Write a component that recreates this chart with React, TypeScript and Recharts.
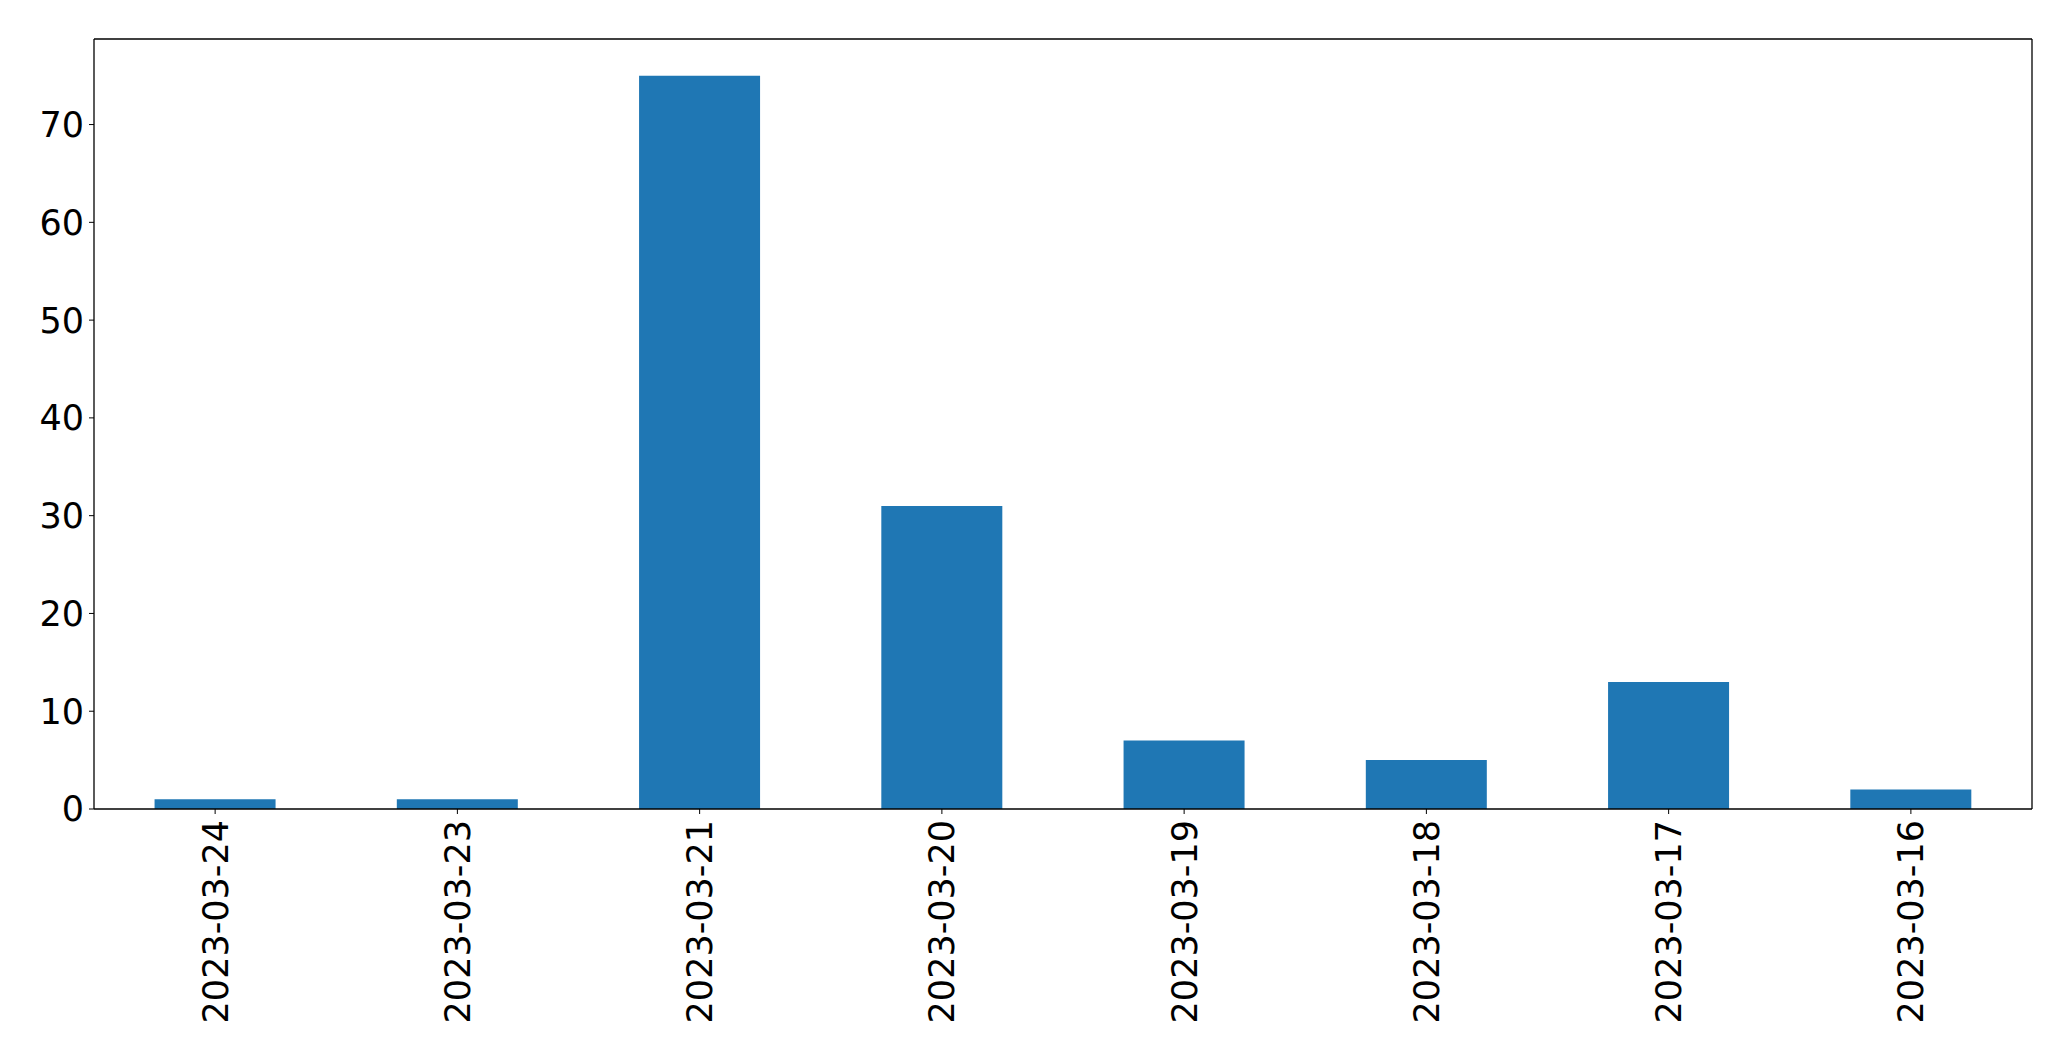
import { BarChart, Bar, XAxis, YAxis, CartesianGrid } from "recharts"

// Daily counts, in the order shown on the x axis
const dates = [
  "2023-03-24",
  "2023-03-23",
  "2023-03-21",
  "2023-03-20",
  "2023-03-19",
  "2023-03-18",
  "2023-03-17",
  "2023-03-16",
]
const counts = [1, 1, 75, 31, 7, 5, 13, 2]
const yTicks = [0, 10, 20, 30, 40, 50, 60, 70]

const FONT = "DejaVu Sans, sans-serif"
const frame = { stroke: "#000", strokeWidth: 1.3 }

const DateTick = (props: any) => {
  const { x, y, payload } = props
  return (
    <g transform={`translate(${x},${y + 6}) rotate(-90)`}>
      <text x={0} y={0} dy="0.36em" textAnchor="end" fill="#000" fontSize={35} fontFamily={FONT}>
        {payload.value}
      </text>
    </g>
  )
}

export default function App() {
  const data = dates.map((date, i) => ({ date, count: counts[i] }))

  return (
    <div style={{ position: "absolute", left: 0, top: 0, background: "#fff" }}>
      <BarChart
        width={2071}
        height={1061}
        data={data}
        margin={{ top: 39, right: 39, left: 0, bottom: 0 }}
        barCategoryGap="25%"
      >
        {/* top and right spines drawn as single grid lines on the plot edge */}
        <CartesianGrid
          stroke="#000"
          strokeWidth={1.3}
          horizontalCoordinatesGenerator={({ offset }: any) => [offset.top]}
          verticalCoordinatesGenerator={({ offset }: any) => [offset.left + offset.width]}
        />
        <XAxis
          dataKey="date"
          height={252}
          tick={<DateTick />}
          tickSize={5}
          tickMargin={0}
          stroke="#000"
          axisLine={frame}
          tickLine={{ stroke: "#000" }}
          interval={0}
        />
        <YAxis
          width={94}
          domain={[0, 78.75]}
          ticks={yTicks}
          tickSize={5}
          tickMargin={5}
          stroke="#000"
          axisLine={frame}
          tick={{ fill: "#000", fontSize: 35, fontFamily: FONT }}
          allowDataOverflow
        />
        <Bar dataKey="count" fill="#1f77b4" isAnimationActive={false} />
      </BarChart>
    </div>
  )
}
